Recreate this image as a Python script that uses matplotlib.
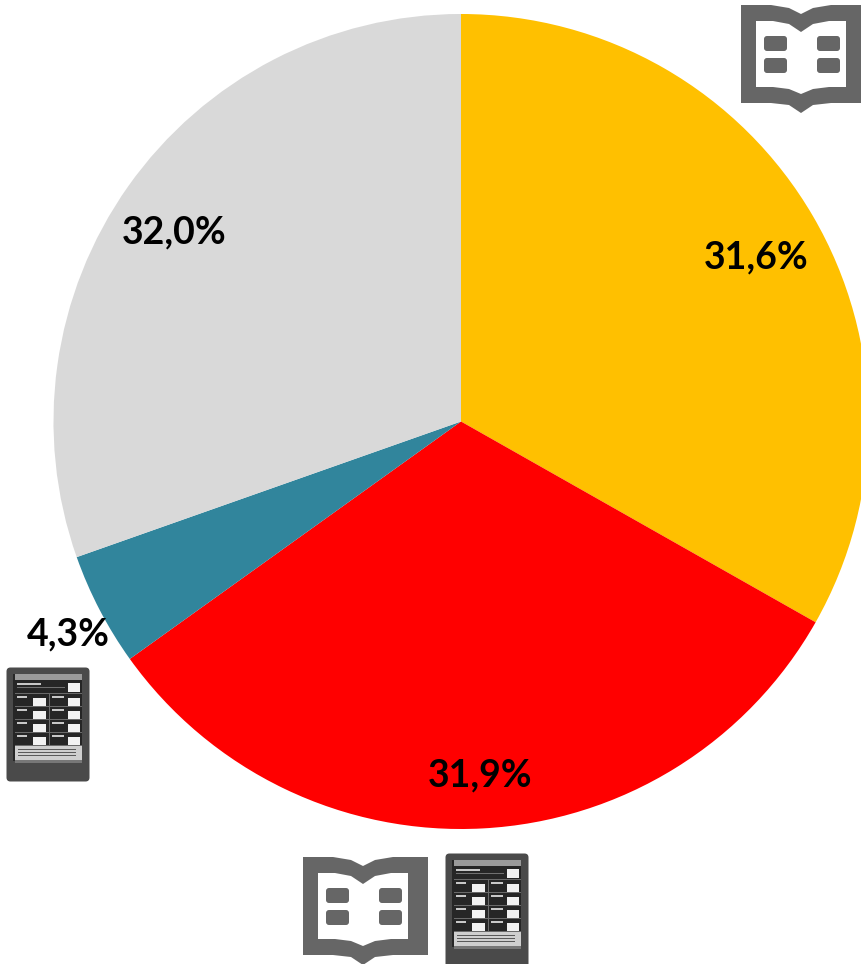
import matplotlib
matplotlib.use("Agg")
import matplotlib.pyplot as plt
from matplotlib.patches import Polygon, Rectangle, FancyBboxPatch

W, H = 862, 964

# Slice shares as drawn in the picture, and the labels printed on them
shares = [33.2, 31.9, 4.5, 30.4]
labels = ["31,6%", "31,9%", "4,3%", "32,0%"]
colors = ["#FFC000", "#FF0000", "#31859C", "#D9D9D9"]
explode = [0, 0, 0, 0.015]
label_px = [(756, 257), (480, 775), (68, 634), (174, 232)]

fig = plt.figure(figsize=(W / 100, H / 100), dpi=100, facecolor="white")
ax = fig.add_axes([0, 0, 1, 1])
ax.set_xlim(0, W)
ax.set_ylim(H, 0)
ax.axis("off")
ax.set_aspect("equal")

# The y axis is inverted, so the angles flip: counterclock=True runs clockwise on screen
ax.pie(shares, colors=colors, explode=explode, startangle=-90, counterclock=True,
       radius=407.5, center=(461, 421.5), frame=True,
       wedgeprops=dict(linewidth=0))
ax.set_xlim(0, W)
ax.set_ylim(H, 0)
ax.axis("off")

for text, (x, y) in zip(labels, label_px):
    ax.text(x, y, text, ha="center", va="center", fontsize=27,
            fontweight="bold", family="Lato", color="black")

ICON = "#666666"


def book(ox, oy):
    """Open-book icon; ox, oy is the upper-left corner."""
    outer = [(0, 0), (30, 0), (48, 3), (60, 9), (72, 3), (90, 0), (125, 0), (125, 98),
             (90, 98), (72, 100), (60, 108), (48, 100), (30, 98), (0, 98)]
    inner = [(15, 16), (32, 16), (48, 19), (60, 27), (72, 19), (88, 16), (105, 16), (105, 82),
             (88, 82), (72, 84), (60, 89), (48, 84), (32, 82), (15, 82)]
    ax.add_patch(Polygon([(ox + a, oy + b) for a, b in outer], fc=ICON, ec="none", zorder=5))
    ax.add_patch(Polygon([(ox + a, oy + b) for a, b in inner], fc="white", ec="none", zorder=6))
    for dx in (24, 77):
        for dy in (32, 54):
            ax.add_patch(FancyBboxPatch((ox + dx, oy + dy), 21, 13,
                                        boxstyle="round,pad=1,rounding_size=3",
                                        fc=ICON, ec="none", zorder=7))


def tablet(ox, oy):
    """E-reader icon; ox, oy is the upper-left corner."""
    def rect(x, y, w, h, c, z=6):
        ax.add_patch(Rectangle((ox + x, oy + y), w, h, fc=c, ec="none", zorder=z))

    ax.add_patch(FancyBboxPatch((ox + 1, oy + 1), 82, 113,
                                boxstyle="round,pad=0.5,rounding_size=4",
                                fc="#4a4a4a", ec="none", zorder=5))
    rect(7, 7, 69, 87, "#262626")
    rect(9, 7, 67, 6, "#9a9a9a", 7)
    rect(9, 79, 67, 14, "#cfcfcf", 7)
    rect(9, 93, 67, 3, "#777777", 7)
    # Grid lines between the menu rows and columns
    for y in (26, 39, 52, 65, 78):
        rect(9, y, 67, 0.7, "#6a6a6a", 7)
    rect(43, 26, 0.7, 52, "#6a6a6a", 7)
    # Menu captions and white glyphs
    rect(11, 16, 24, 1.6, "#c8c8c8", 7)
    rect(11, 20, 48, 1.0, "#707070", 7)
    rect(62, 16, 12, 9, "#f2f2f2", 7)
    for y in (29, 42, 55, 68):
        rect(11, y, 10, 1.6, "#c8c8c8", 7)
        rect(46, y, 12, 1.6, "#c8c8c8", 7)
        rect(27, y + 2, 13, 8, "#f2f2f2", 7)
        rect(62, y + 2, 12, 8, "#f2f2f2", 7)
    for y in (82, 85, 88):
        rect(12, y, 58, 1.0, "#5a5a5a", 8)


book(741, 5)
book(303, 857)
tablet(6, 667)
tablet(445, 853)

fig.savefig("out.png", dpi=100, facecolor="white")
